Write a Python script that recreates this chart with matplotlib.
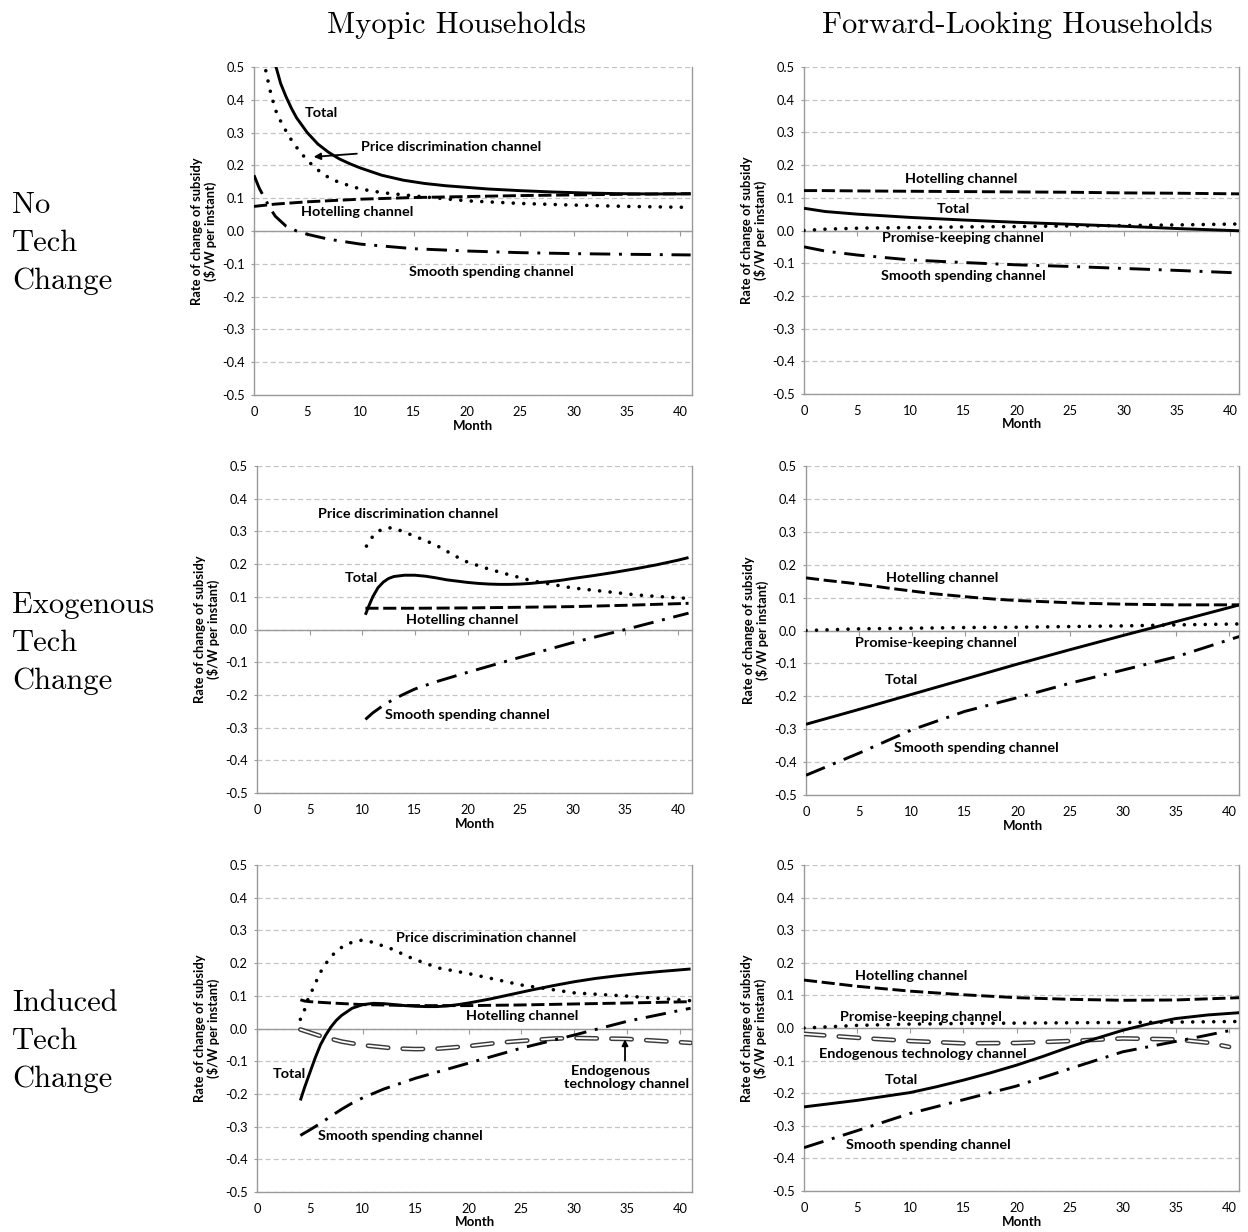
import matplotlib
matplotlib.use("Agg")
import matplotlib.pyplot as plt

plt.rcParams['font.family'] = ['Lato', 'DejaVu Sans']

# ---------------- data ----------------
XTICKS = [0, 5, 10, 15, 20, 25, 30, 35, 40]
YTICKS = [-0.5, -0.4, -0.3, -0.2, -0.1, 0.0, 0.1, 0.2, 0.3, 0.4, 0.5]
COL_TITLES = ["Myopic Households", "Forward-Looking Households"]
ROW_TITLES = ["No\nTech\nChange", "Exogenous\nTech\nChange", "Induced\nTech\nChange"]

# Panel A: myopic, no tech change
A_tot_m = [1.9, 2.5, 3, 3.5, 4, 5, 6, 7, 8, 9, 10, 12, 14, 16, 18, 20, 22, 25, 28, 31, 34, 37, 41]
A_tot_v = [0.52, 0.45, 0.41, 0.375, 0.345, 0.30, 0.265, 0.24, 0.22, 0.205, 0.192, 0.17, 0.155, 0.145,
           0.138, 0.133, 0.128, 0.123, 0.119, 0.116, 0.114, 0.113, 0.113]
A_pd_m = [0.9, 1.5, 2, 2.5, 3, 3.5, 4, 5, 6, 7, 8, 10, 12, 15, 20, 25, 30, 35, 41]
A_pd_v = [0.52, 0.43, 0.37, 0.335, 0.305, 0.278, 0.255, 0.215, 0.186, 0.163, 0.148, 0.128, 0.117,
          0.107, 0.092, 0.084, 0.079, 0.075, 0.072]
A_hot_m = [0, 2, 5, 10, 15, 20, 25, 30, 35, 41]
A_hot_v = [0.075, 0.082, 0.089, 0.097, 0.102, 0.105, 0.108, 0.110, 0.112, 0.114]
A_ss_m = [0, 0.5, 1, 1.5, 2, 3, 4, 5, 7, 10, 15, 20, 25, 30, 35, 41]
A_ss_v = [0.17, 0.13, 0.10, 0.07, 0.045, 0.015, 0.0, -0.01, -0.025, -0.04, -0.054, -0.061, -0.066,
          -0.069, -0.071, -0.073]

# Panel B: forward-looking, no tech change
B_m = [0, 2, 5, 10, 15, 20, 25, 30, 35, 41]
B_hot = [0.122, 0.122, 0.121, 0.12, 0.119, 0.118, 0.117, 0.115, 0.114, 0.112]
B_tot = [0.068, 0.058, 0.05, 0.04, 0.032, 0.025, 0.019, 0.013, 0.006, -0.001]
B_pk = [0.0, 0.004, 0.007, 0.009, 0.011, 0.012, 0.014, 0.015, 0.017, 0.02]
B_ss = [-0.05, -0.063, -0.075, -0.09, -0.098, -0.105, -0.11, -0.116, -0.122, -0.13]

# Panel C: myopic, exogenous tech change
C_pd_m = [10.4, 11, 11.5, 12, 12.5, 13, 14, 15, 16, 17, 18, 19, 20, 22, 24, 26, 28, 30, 32, 34, 36, 38, 41]
C_pd_v = [0.255, 0.285, 0.30, 0.308, 0.311, 0.31, 0.298, 0.285, 0.272, 0.258, 0.24, 0.222, 0.206,
          0.185, 0.167, 0.15, 0.138, 0.127, 0.12, 0.113, 0.106, 0.101, 0.095]
C_tot_m = [10.3, 10.6, 11, 11.5, 12, 12.5, 13, 14, 15, 16, 17, 18, 19, 20, 21, 22, 23, 24, 25, 26, 27,
           28, 29, 30, 32, 34, 36, 38, 40, 41]
C_tot_v = [0.045, 0.07, 0.10, 0.128, 0.145, 0.156, 0.162, 0.166, 0.166, 0.163, 0.158, 0.152, 0.148,
           0.144, 0.141, 0.139, 0.138, 0.138, 0.139, 0.141, 0.144, 0.147, 0.151, 0.156, 0.165, 0.175,
           0.186, 0.198, 0.212, 0.22]
C_hot_m = [10.3, 15, 20, 25, 30, 35, 41]
C_hot_v = [0.065, 0.065, 0.066, 0.068, 0.07, 0.074, 0.08]
C_ss_m = [10.3, 11, 12, 13, 14, 15, 17, 20, 25, 30, 35, 41]
C_ss_v = [-0.275, -0.255, -0.232, -0.213, -0.197, -0.182, -0.16, -0.131, -0.085, -0.04, 0.0, 0.05]

# Panel D: forward-looking, exogenous tech change
D_hot_m = [0, 2, 4, 6, 8, 10, 12, 14, 16, 18, 20, 23, 26, 30, 35, 41]
D_hot_v = [0.16, 0.152, 0.145, 0.137, 0.128, 0.12, 0.112, 0.106, 0.1, 0.095, 0.091, 0.087, 0.083,
           0.08, 0.078, 0.078]
D_m = [0, 5, 10, 15, 20, 25, 30, 35, 41]
D_pk = [0.0, 0.005, 0.007, 0.009, 0.01, 0.012, 0.014, 0.017, 0.02]
D_tot = [-0.285, -0.24, -0.194, -0.148, -0.102, -0.058, -0.015, 0.027, 0.078]
D_ss = [-0.44, -0.373, -0.302, -0.246, -0.204, -0.16, -0.12, -0.08, -0.018]

# Panel E: myopic, induced tech change
E_pd_m = [4.1, 4.4, 4.9, 5.3, 5.9, 6.3, 6.75, 7.25, 7.8, 8.45, 9.1, 9.9, 10.6, 11.5, 12.4, 13.3, 14.2,
          15.1, 16, 17, 20, 25, 30, 35, 41]
E_pd_v = [0.028, 0.048, 0.097, 0.122, 0.166, 0.189, 0.209, 0.228, 0.244, 0.257, 0.265, 0.27, 0.267,
          0.257, 0.248, 0.235, 0.221, 0.209, 0.199, 0.186, 0.168, 0.133, 0.109, 0.099, 0.085]
E_tot_m = [4.1, 4.5, 5, 5.5, 6, 6.5, 7, 7.5, 8, 9, 10, 11, 12, 13, 14, 15, 16, 17, 18, 19, 20, 22, 24,
           26, 28, 30, 32, 34, 36, 38, 41]
E_tot_v = [-0.22, -0.18, -0.135, -0.09, -0.05, -0.02, 0.005, 0.025, 0.04, 0.062, 0.073, 0.077, 0.076,
           0.073, 0.07, 0.068, 0.067, 0.067, 0.069, 0.073, 0.078, 0.09, 0.104, 0.118, 0.131, 0.143,
           0.153, 0.161, 0.168, 0.174, 0.182]
E_hot_m = [4.1, 4.5, 5, 7, 10, 15, 20, 25, 30, 35, 41]
E_hot_v = [0.088, 0.084, 0.082, 0.078, 0.073, 0.07, 0.07, 0.072, 0.075, 0.078, 0.082]
E_end_m = [4.1, 6, 8, 10, 13, 15, 17, 20, 23, 25, 28, 30, 35, 38, 41]
E_end_v = [-0.003, -0.023, -0.04, -0.051, -0.061, -0.063, -0.062, -0.054, -0.043, -0.038, -0.031,
           -0.029, -0.032, -0.038, -0.044]
E_ss_m = [4.1, 5, 6, 7, 8, 9, 10, 12, 15, 20, 25, 30, 35, 41]
E_ss_v = [-0.327, -0.31, -0.29, -0.268, -0.247, -0.228, -0.212, -0.185, -0.152, -0.106, -0.06, -0.02,
          0.022, 0.062]

# Panel F: forward-looking, induced tech change
F_m = [0, 5, 10, 15, 20, 25, 30, 35, 41]
F_hot = [0.147, 0.128, 0.113, 0.102, 0.093, 0.088, 0.085, 0.086, 0.093]
F_pk = [0.0, 0.008, 0.012, 0.014, 0.015, 0.016, 0.017, 0.018, 0.02]
F_end_m = [0, 5, 10, 15, 20, 25, 30, 35, 38, 40]
F_end_v = [-0.018, -0.03, -0.04, -0.047, -0.046, -0.04, -0.032, -0.035, -0.045, -0.058]
F_tot_m = [0, 5, 10, 12.5, 15, 17.5, 20, 22.5, 25, 27.5, 30, 32.5, 35, 38, 41]
F_tot_v = [-0.242, -0.222, -0.198, -0.18, -0.16, -0.138, -0.114, -0.087, -0.058, -0.032, -0.007,
           0.013, 0.029, 0.04, 0.047]
F_ss_m = [0, 5, 10, 15, 20, 25, 30, 34.4, 37.2, 40.2]
F_ss_v = [-0.367, -0.315, -0.262, -0.22, -0.178, -0.125, -0.073, -0.045, -0.027, -0.007]

# ---------------- styles ----------------
GRID = '#c4c4c4'
SPINE = '#9a9a9a'
W, H = 1248, 1232
LABEL_FS = 10.4
TICK_FS = 9.3


def total(ax, m, v):
    ax.plot(m, v, color='black', lw=2.1, solid_capstyle='butt', zorder=3)


def dotted(ax, m, v):
    ax.plot(m, v, color='black', lw=2.6, linestyle=(0, (0.01, 2.9)), dash_capstyle='round', zorder=3)


def dashed(ax, m, v):
    ax.plot(m, v, color='black', lw=2.1, linestyle=(0, (4.5, 1.6)), dash_capstyle='butt', zorder=3)


def dashdot(ax, m, v):
    ax.plot(m, v, color='black', lw=2.1, linestyle=(0, (7, 3, 1, 3)), dash_capstyle='butt', zorder=3)


def hollow(ax, m, v):
    D, G = 14.6, 10.5
    wo, wi = 3.4, 1.3
    ax.plot(m, v, color='#3a3a3a', lw=wo, linestyle=(0, (D / wo, G / wo)),
            dash_capstyle='round', zorder=3)
    ax.plot(m, v, color='white', lw=wi, linestyle=(0, (D / wi, G / wi)),
            dash_capstyle='round', zorder=3)


def make_axes(left_px, right_px, top_px, bottom_px, x0px, x40px):
    ax = fig.add_axes([left_px / W, 1 - bottom_px / H, (right_px - left_px) / W, (bottom_px - top_px) / H])
    ppm = (x40px - x0px) / 40.0
    ax.set_xlim(0, (right_px - x0px) / ppm)
    ax.set_ylim(-0.5, 0.5)
    ax.set_yticks(YTICKS)
    ax.set_yticklabels([f"{t:.1f}" for t in YTICKS])
    ax.yaxis.grid(True, color=GRID, lw=0.9, linestyle=(0, (4, 2.5)))
    ax.set_axisbelow(True)
    for s in ['left', 'right']:
        ax.spines[s].set_color(SPINE)
        ax.spines[s].set_linewidth(1.0)
    ax.spines['top'].set_visible(False)
    ax.spines['bottom'].set_position(('data', 0))
    ax.spines['bottom'].set_color(SPINE)
    ax.spines['bottom'].set_linewidth(1.0)
    ax.set_xticks(XTICKS)
    ax.tick_params(axis='x', direction='out', length=3.5, color=SPINE, labelbottom=False)
    ax.tick_params(axis='y', direction='out', length=2.5, color=SPINE, pad=4, labelsize=TICK_FS)
    sec = ax.secondary_xaxis('bottom')
    sec.set_xticks(XTICKS)
    sec.tick_params(length=0, pad=8, labelsize=TICK_FS)
    sec.spines['bottom'].set_color(SPINE)
    sec.spines['bottom'].set_linewidth(1.0)
    sec.set_xlabel('Month', fontweight='bold', fontsize=9.5, labelpad=1)
    ax.set_ylabel("Rate of change of subsidy\n(\\$/W per instant)", fontweight='bold', fontsize=9.3,
                  linespacing=1.05)
    ax.yaxis.set_label_coords(-37 / (right_px - left_px), 0.5)
    return ax


def lab(ax, x, y, s, ha='left'):
    ax.text(x, y, s, fontweight='bold', fontsize=LABEL_FS, ha=ha, va='center', zorder=5)


fig = plt.figure(figsize=(W / 100, H / 100), dpi=100)

# Column titles and row titles
fig.text(456.5 / W, 1 - 33 / H, COL_TITLES[0], family='cmr10', fontsize=22, ha='center', va='baseline')
fig.text(1017.5 / W, 1 - 33 / H, COL_TITLES[1], family='cmr10', fontsize=22, ha='center', va='baseline')
for txt, yc in zip(ROW_TITLES, [243, 643, 1041]):
    fig.text(12 / W, 1 - yc / H, txt, family='cmr10', fontsize=22, ha='left', va='center', linespacing=1.5)

# Panel A
ax = make_axes(254, 692, 67, 395, 254, 680)
dashed(ax, A_hot_m, A_hot_v)
dashdot(ax, A_ss_m, A_ss_v)
dotted(ax, A_pd_m, A_pd_v)
total(ax, A_tot_m, A_tot_v)
lab(ax, 6.3, 0.36, "Total", ha='center')
ax.annotate("Price discrimination channel", xy=(5.6, 0.226), xytext=(10.05, 0.257),
            fontweight='bold', fontsize=LABEL_FS, ha='left', va='center', zorder=5,
            arrowprops=dict(arrowstyle='-|>', color='black', lw=1.3, shrinkA=1, shrinkB=0,
                            mutation_scale=10))
lab(ax, 4.4, 0.059, "Hotelling channel")
lab(ax, 14.6, -0.126, "Smooth spending channel")

# Panel B
ax = make_axes(804, 1239, 67, 394, 804, 1230)
dashed(ax, B_m, B_hot)
dashdot(ax, B_m, B_ss)
dotted(ax, B_m, B_pk)
total(ax, B_m, B_tot)
lab(ax, 9.5, 0.157, "Hotelling channel")
lab(ax, 14.0, 0.066, "Total", ha='center')
lab(ax, 7.3, -0.023, "Promise-keeping channel")
lab(ax, 7.2, -0.139, "Smooth spending channel")

# Panel C
ax = make_axes(257, 692, 466, 793, 257, 678)
dashed(ax, C_hot_m, C_hot_v)
dashdot(ax, C_ss_m, C_ss_v)
dotted(ax, C_pd_m, C_pd_v)
total(ax, C_tot_m, C_tot_v)
lab(ax, 5.8, 0.353, "Price discrimination channel")
lab(ax, 9.9, 0.157, "Total", ha='center')
lab(ax, 14.15, 0.029, "Hotelling channel")
lab(ax, 12.2, -0.261, "Smooth spending channel")

# Panel D
ax = make_axes(806, 1239, 466, 795, 806, 1229)
dashed(ax, D_hot_m, D_hot_v)
dashdot(ax, D_m, D_ss)
dotted(ax, D_m, D_pk)
total(ax, D_m, D_tot)
lab(ax, 7.6, 0.16, "Hotelling channel")
lab(ax, 4.6, -0.038, "Promise-keeping channel")
lab(ax, 9.0, -0.15, "Total", ha='center')
lab(ax, 8.3, -0.357, "Smooth spending channel")

# Panel E
ax = make_axes(257, 692, 865, 1192, 257, 680)
hollow(ax, E_end_m, E_end_v)
dashed(ax, E_hot_m, E_hot_v)
dashdot(ax, E_ss_m, E_ss_v)
dotted(ax, E_pd_m, E_pd_v)
total(ax, E_tot_m, E_tot_v)
lab(ax, 13.15, 0.277, "Price discrimination channel")
lab(ax, 19.8, 0.038, "Hotelling channel")
lab(ax, 1.5, -0.139, "Total")
lab(ax, 5.8, -0.329, "Smooth spending channel")
ax.text(29.0, -0.149, "  Endogenous\ntechnology channel", fontweight='bold', fontsize=LABEL_FS,
        ha='left', va='center', linespacing=1.1, zorder=5)
ax.annotate("", xy=(34.8, -0.033), xytext=(34.8, -0.098),
            arrowprops=dict(arrowstyle='-|>', color='black', lw=1.3, shrinkA=0, shrinkB=0,
                            mutation_scale=9))

# Panel F
ax = make_axes(804, 1239, 865, 1191, 804, 1229)
hollow(ax, F_end_m, F_end_v)
dashed(ax, F_m, F_hot)
dashdot(ax, F_ss_m, F_ss_v)
dotted(ax, F_m, F_pk)
total(ax, F_tot_m, F_tot_v)
lab(ax, 4.8, 0.16, "Hotelling channel")
lab(ax, 3.4, 0.034, "Promise-keeping channel")
lab(ax, 1.4, -0.08, "Endogenous technology channel")
lab(ax, 7.6, -0.16, "Total")
lab(ax, 4.0, -0.359, "Smooth spending channel")

fig.savefig("out.png", dpi=100)
